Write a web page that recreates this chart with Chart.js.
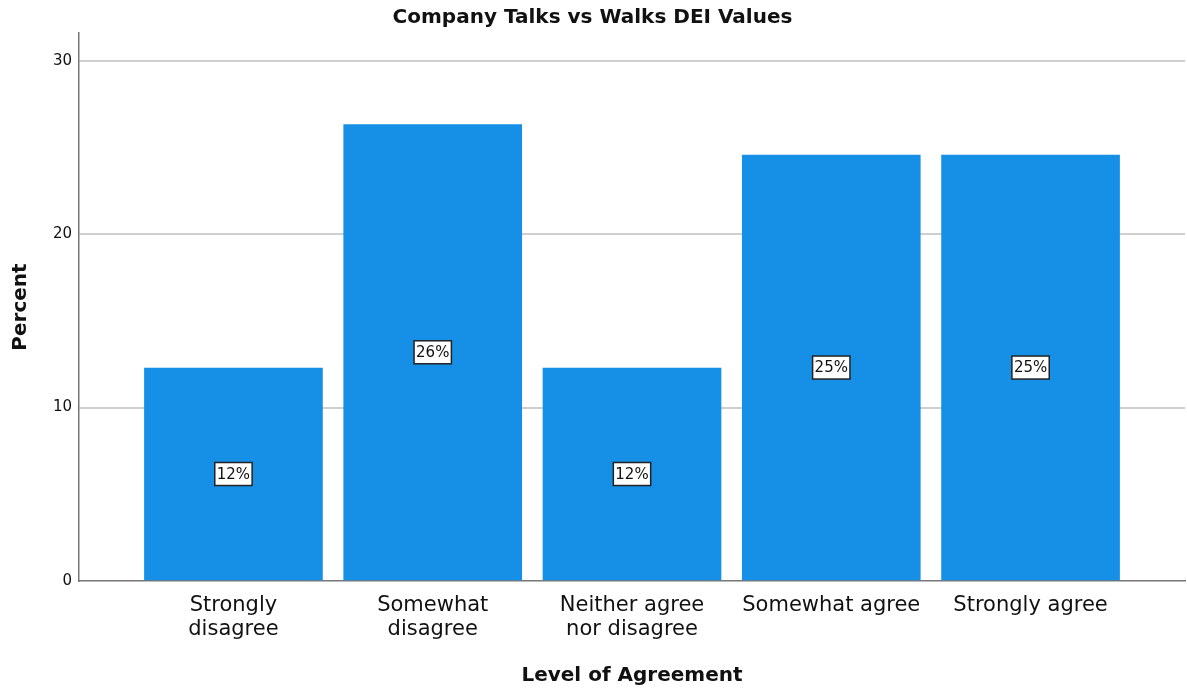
<!DOCTYPE html>
<html>
<head>
<meta charset="utf-8">
<title>Company Talks vs Walks DEI Values</title>
<script src="https://cdn.jsdelivr.net/npm/chart.js@4/dist/chart.umd.min.js"></script>
<style>
  html, body { margin: 0; padding: 0; background: #fff; }
</style>
</head>
<body>
<canvas id="agreement-chart" width="1187" height="688"></canvas>
<script>
// Level of agreement, percent of respondents
const levels = [
    ['Strongly', 'disagree'],
    ['Somewhat', 'disagree'],
    ['Neither agree', 'nor disagree'],
    'Somewhat agree',
    'Strongly agree'
];
const percents = [12.28, 26.32, 12.28, 24.56, 24.56];
const yTicks = [0, 10, 20, 30];

const FONT = "'DejaVu Sans', 'Noto Sans', sans-serif";
const BAR_BLUE = '#1590e6';

// white boxed percent label in the middle of each bar
const barLabels = {
    id: 'barLabels',
    afterDatasetsDraw(chart) {
        const ctx = chart.ctx;
        const meta = chart.getDatasetMeta(0);
        ctx.save();
        ctx.font = '15px ' + FONT;
        ctx.textAlign = 'center';
        ctx.textBaseline = 'middle';
        meta.data.forEach((bar, i) => {
            const text = Math.round(percents[i]) + '%';
            const cx = bar.x;
            const cy = (bar.y + bar.base) / 2;
            const w = ctx.measureText(text).width + 4;
            const h = 23;
            ctx.fillStyle = '#fff';
            ctx.fillRect(cx - w / 2, cy - h / 2, w, h);
            ctx.strokeStyle = '#222';
            ctx.lineWidth = 1.5;
            ctx.strokeRect(cx - w / 2, cy - h / 2, w, h);
            ctx.fillStyle = '#111';
            ctx.fillText(text, cx, cy + 1);
        });
        ctx.restore();
    }
};

new Chart(document.querySelector('#agreement-chart').getContext('2d'), {
    type: 'bar',
    data: {
        datasets: [{
            data: percents.map((p, i) => ({ x: i, y: p })),
            backgroundColor: BAR_BLUE,
            borderWidth: 0,
            barThickness: 178
        }]
    },
    options: {
        responsive: false,
        animation: false,
        layout: { padding: { left: 0, right: 2, top: 0, bottom: 0 } },
        plugins: {
            legend: { display: false },
            tooltip: { enabled: false },
            title: {
                display: true,
                text: 'Company Talks vs Walks DEI Values',
                color: '#111',
                font: { family: FONT, size: 20, weight: 'bold' },
                padding: { top: 6, bottom: 3 }
            }
        },
        scales: {
            x: {
                type: 'linear',
                offset: false,
                min: -0.775,
                max: 4.775,
                afterBuildTicks: scale => {
                    scale.ticks = levels.map((_, i) => ({ value: i }));
                },
                afterFit: scale => { scale.height = 107; },
                grid: { display: false, drawTicks: false },
                border: { display: true, color: '#777', width: 1.5 },
                ticks: {
                    autoSkip: false,
                    maxRotation: 0,
                    padding: 12,
                    color: '#111',
                    font: { family: FONT, size: 21, lineHeight: 1.15 },
                    callback: value => levels[value]
                },
                title: {
                    display: true,
                    text: 'Level of Agreement',
                    color: '#111',
                    font: { family: FONT, size: 20, weight: 'bold' },
                    padding: { top: 12, bottom: 0 }
                }
            },
            y: {
                min: 0,
                max: 31.6,
                afterBuildTicks: scale => {
                    scale.ticks = yTicks.map(v => ({ value: v }));
                },
                afterFit: scale => { scale.width = 79; },
                grid: {
                    color: ctx => ctx.tick.value === 0 ? 'rgba(0,0,0,0)' : '#cfcfcf',
                    lineWidth: 2,
                    drawTicks: false
                },
                border: { display: true, color: '#777', width: 1.5 },
                ticks: {
                    padding: 7,
                    color: '#111',
                    font: { family: FONT, size: 15 }
                },
                title: {
                    display: true,
                    text: 'Percent',
                    color: '#111',
                    font: { family: FONT, size: 20, weight: 'bold' },
                    padding: { top: 9, bottom: 0 }
                }
            }
        }
    },
    plugins: [barLabels]
});
</script>
</body>
</html>
